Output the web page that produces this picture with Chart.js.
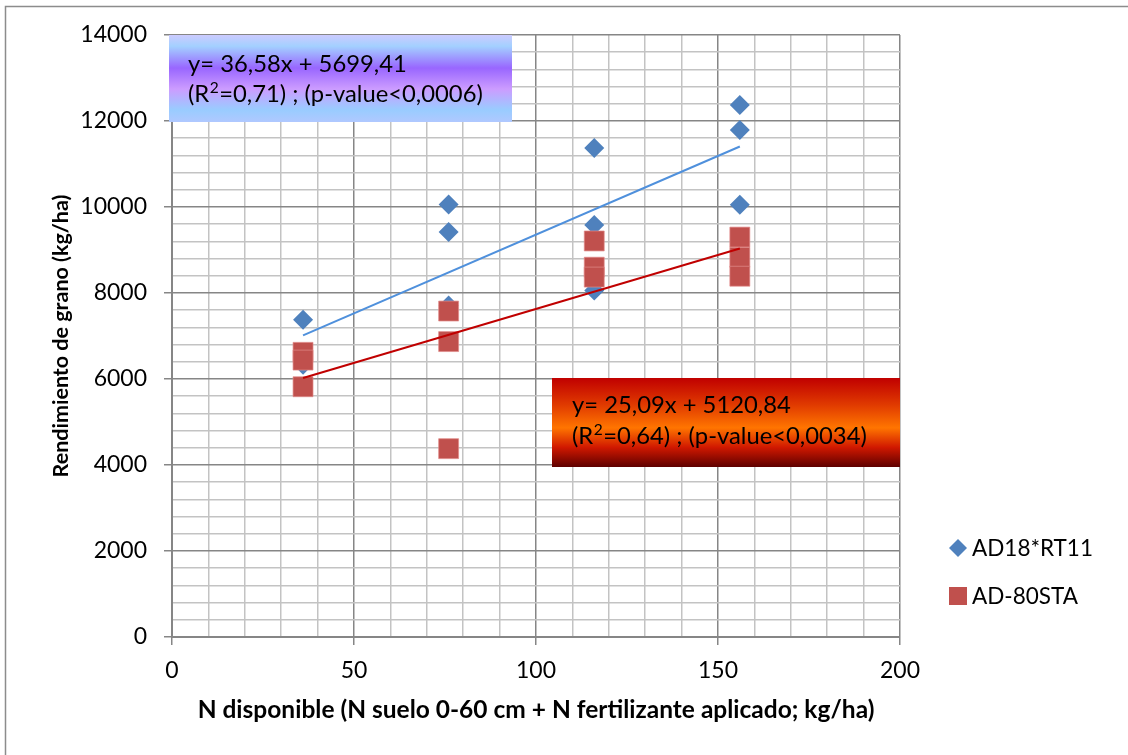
<!DOCTYPE html>
<html><head><meta charset="utf-8">
<script src="https://cdn.jsdelivr.net/npm/chart.js@4/dist/chart.umd.min.js"></script>
<style>html,body{margin:0;padding:0;background:#fff}#wrap{width:1128px;height:755px;position:relative}</style>
</head><body><div id="wrap"><canvas id="c" width="1128" height="755"></canvas></div>
<script>
// ---- data ----
const nDisponible = [36, 36, 36, 76, 76, 76, 116, 116, 116, 156, 156, 156];
const ad18rt11    = [7380, 6360, 6330, 10060, 9420, 7710, 11370, 9580, 8060, 12370, 11790, 10050];
const ad80sta     = [6620, 6440, 5820, 7580, 6870, 4380, 9210, 8600, 8370, 9300, 8830, 8390];
const trendX      = [36, 156];
const trendAD18   = [7016, 11406];
const trendAD80   = [6024, 9035];
const seriesNames = ['AD18*RT11', 'AD-80STA'];
const xTickLabels = ['0', '50', '100', '150', '200'];
const yTickLabels = ['0', '2000', '4000', '6000', '8000', '10000', '12000', '14000'];
const eqBlue = ['y= 36,58x + 5699,41', ['(R', '2', '=0,71) ; (p-value<0,0006)']];
const eqRed  = ['y= 25,09x + 5120,84', ['(R', '2', '=0,64) ; (p-value<0,0034)']];
const xTitle = 'N disponible (N suelo 0-60 cm + N fertilizante aplicado; kg/ha)';
const yTitle = 'Rendimiento de grano (kg/ha)';

const FONT = "Lato, 'Open Sans', sans-serif";
const BLUE = '#4f81bd', RED = '#c0504d';
const MAJOR = '#868686', MINOR = '#c3c3c3';

const pts = (xs, ys) => xs.map((x, i) => ({x: x, y: ys[i]}));

function drawEq(c, lines, x, y1, y2) {
  const big = '23.8px ' + FONT, small = '15.5px ' + FONT;
  c.font = big;
  c.fillText(lines[0], x, y1);
  const parts = lines[1];
  let cx = x;
  c.font = big; c.fillText(parts[0], cx, y2); cx += c.measureText(parts[0]).width;
  c.font = small; c.fillText(parts[1], cx + 0.5, y2 - 9); cx += c.measureText(parts[1]).width + 1;
  c.font = big; c.fillText(parts[2], cx, y2);
}

const decor = {
  id: 'decor',
  beforeDraw(chart) {
    const c = chart.ctx;
    c.save();
    c.fillStyle = '#fff';
    c.fillRect(0, 0, chart.width, chart.height);
    c.strokeStyle = '#8c8c8c';
    c.lineWidth = 1.5;
    c.strokeRect(5.5, 6.5, 1300, 900);
    c.restore();
  },
  afterDraw(chart) {
    const c = chart.ctx;
    c.save();
    // blue equation box
    let g = c.createLinearGradient(0, 35, 0, 122);
    g.addColorStop(0, '#cccbff');
    g.addColorStop(0.13, '#a3d0ff');
    g.addColorStop(0.38, '#9966ff');
    g.addColorStop(0.62, '#cc9cff');
    g.addColorStop(0.86, '#99ccff');
    g.addColorStop(1, '#b0c8ff');
    c.fillStyle = g;
    c.fillRect(169, 35, 343, 87);
    // red equation box
    g = c.createLinearGradient(0, 378, 0, 467);
    g.addColorStop(0, '#c00000');
    g.addColorStop(0.3, '#e03a00');
    g.addColorStop(0.56, '#ff7500');
    g.addColorStop(0.78, '#d01800');
    g.addColorStop(1, '#5e0000');
    c.fillStyle = g;
    c.fillRect(552, 378, 348, 89);
    c.fillStyle = '#000';
    c.textBaseline = 'alphabetic';
    c.textAlign = 'left';
    drawEq(c, eqBlue, 188, 72, 102);
    drawEq(c, eqRed, 572, 413, 444);
    // legend
    const ds0 = chart.data.datasets[0], ds1 = chart.data.datasets[1];
    c.fillStyle = ds0.backgroundColor;
    c.beginPath();
    c.moveTo(958, 539); c.lineTo(967, 548); c.lineTo(958, 557); c.lineTo(949, 548); c.closePath();
    c.fill();
    c.fillStyle = ds1.backgroundColor;
    c.fillRect(949, 587, 18, 18);
    c.fillStyle = '#000';
    c.font = '22.5px ' + FONT;
    c.textBaseline = 'middle';
    c.fillText(seriesNames[0], 972, 549);
    c.fillText(seriesNames[1], 972, 597);
    c.restore();
  }
};

new Chart(document.getElementById('c'), {
  type: 'scatter',
  data: {
    datasets: [
      {label: seriesNames[0], data: pts(nDisponible, ad18rt11), pointStyle: 'rectRot', pointRadius: 10,
       backgroundColor: BLUE, borderColor: BLUE, borderWidth: 0, order: 3},
      {label: seriesNames[1], data: pts(nDisponible, ad80sta), pointStyle: 'rect', pointRadius: 14.1,
       backgroundColor: RED, borderColor: 'rgba(225,140,138,0.7)', borderWidth: 1, order: 2},
      {type: 'line', label: 'tend1', data: pts(trendX, trendAD18), borderColor: '#4f90dc', borderWidth: 2,
       pointRadius: 0, fill: false, order: 1},
      {type: 'line', label: 'tend2', data: pts(trendX, trendAD80), borderColor: '#c00000', borderWidth: 2,
       pointRadius: 0, fill: false, order: 0}
    ]
  },
  options: {
    responsive: false,
    animation: false,
    devicePixelRatio: 1,
    events: [],
    layout: {padding: {left: 0, top: 35, right: 228, bottom: 0}},
    plugins: {legend: {display: false}, tooltip: {enabled: false}},
    scales: {
      x: {
        type: 'linear', min: 0, max: 200,
        afterFit: s => { s.height = 118; },
        ticks: {stepSize: 10, autoSkip: false, maxRotation: 0, padding: 12, color: '#000',
          font: {family: FONT, size: 23},
          callback: v => (v % 50 === 0 ? xTickLabels[v / 50] : '')},
        grid: {color: c => (c.tick && c.tick.value % 50 === 0 ? MAJOR : MINOR), lineWidth: 1.5,
          tickLength: 8, tickColor: c => (c.tick && c.tick.value % 50 === 0 ? MAJOR : 'rgba(0,0,0,0)')},
        border: {display: true, color: MAJOR, width: 2},
        title: {display: true, text: xTitle, color: '#000', font: {family: FONT, size: 24.5, weight: 'bold'},
          padding: {top: 0, bottom: 30}}
      },
      y: {
        type: 'linear', min: 0, max: 14000,
        afterFit: s => { s.width = 172; },
        ticks: {stepSize: 400, autoSkip: false, padding: 17, color: '#000',
          font: {family: FONT, size: 23},
          callback: v => (v % 2000 === 0 ? yTickLabels[v / 2000] : '')},
        grid: {color: c => (c.tick && c.tick.value % 2000 === 0 ? MAJOR : MINOR), lineWidth: 1.5,
          tickLength: 8, tickColor: c => (c.tick && c.tick.value % 2000 === 0 ? MAJOR : 'rgba(0,0,0,0)')},
        border: {display: true, color: MAJOR, width: 2},
        title: {display: true, text: yTitle, color: '#000', font: {family: FONT, size: 21.5, weight: 'bold'},
          padding: {top: 48, bottom: 0}}
      }
    }
  },
  plugins: [decor]
});
</script></body></html>
